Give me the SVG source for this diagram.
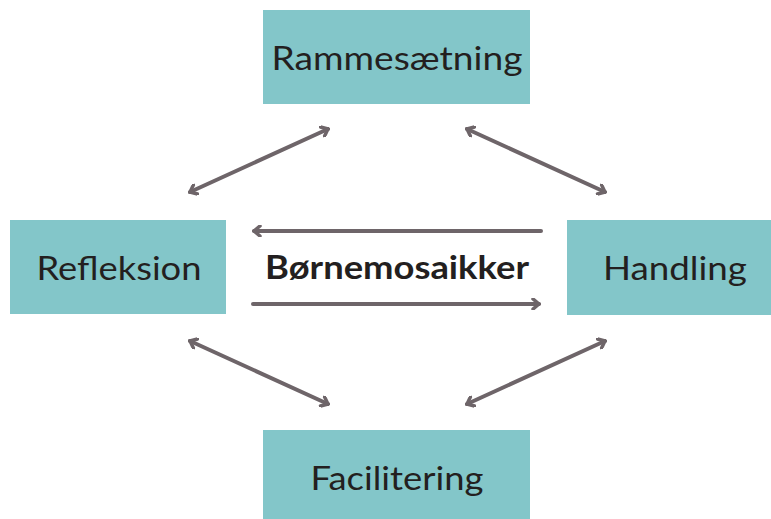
<svg xmlns="http://www.w3.org/2000/svg" width="771" height="519" viewBox="0 0 771 519">
<style>
.box{fill:#83C6C9}
.lbl{font-family:Lato,"Open Sans","Noto Sans",sans-serif;font-size:32px;fill:#231F20;text-anchor:middle}
.bold{font-weight:bold}
.ln{stroke:#6E6569;stroke-width:4;fill:none;stroke-linecap:round}
.hd{stroke:#6E6569;stroke-width:4;fill:none;stroke-linecap:round;stroke-linejoin:miter}
</style>
<defs>
<marker id="ah" viewBox="-8 -6 10 12" markerWidth="10" markerHeight="12" refX="0" refY="0" orient="auto-start-reverse" markerUnits="userSpaceOnUse">
<polyline points="-6,-5 0,0 -6,5" fill="none" stroke="#6E6569" stroke-width="3.5" stroke-linecap="round"/>
</marker>
</defs>
<g id="rammesaetning"><rect class="box" x="263" y="10" width="267" height="94"/><text class="lbl" x="397" y="70" textLength="251" lengthAdjust="spacingAndGlyphs">Rammesætning</text></g>
<g id="refleksion"><rect class="box" x="10" y="220" width="216" height="94"/><text class="lbl" x="119" y="280" textLength="165" lengthAdjust="spacingAndGlyphs">Refleksion</text></g>
<g id="handling"><rect class="box" x="567" y="220" width="204" height="95"/><text class="lbl" x="675" y="280" textLength="144" lengthAdjust="spacingAndGlyphs">Handling</text></g>
<g id="facilitering"><rect class="box" x="263" y="430" width="267" height="89"/><text class="lbl" x="397" y="490" textLength="173" lengthAdjust="spacingAndGlyphs">Facilitering</text></g>
<g id="bornemosaikker"><text class="lbl bold" x="397" y="279" textLength="264" lengthAdjust="spacingAndGlyphs">Børnemosaikker</text></g>
<g id="connectors">
<line class="ln" x1="190" y1="192" x2="328" y2="129" marker-start="url(#ah)" marker-end="url(#ah)"/>
<line class="ln" x1="467" y1="129" x2="605" y2="192" marker-start="url(#ah)" marker-end="url(#ah)"/>
<line class="ln" x1="190" y1="341" x2="328" y2="404" marker-start="url(#ah)" marker-end="url(#ah)"/>
<line class="ln" x1="467" y1="404" x2="605" y2="341" marker-start="url(#ah)" marker-end="url(#ah)"/>
<line class="ln" x1="541" y1="231" x2="254" y2="231" marker-end="url(#ah)"/>
<line class="ln" x1="253" y1="304" x2="539" y2="304" marker-end="url(#ah)"/>
</g>
</svg>
